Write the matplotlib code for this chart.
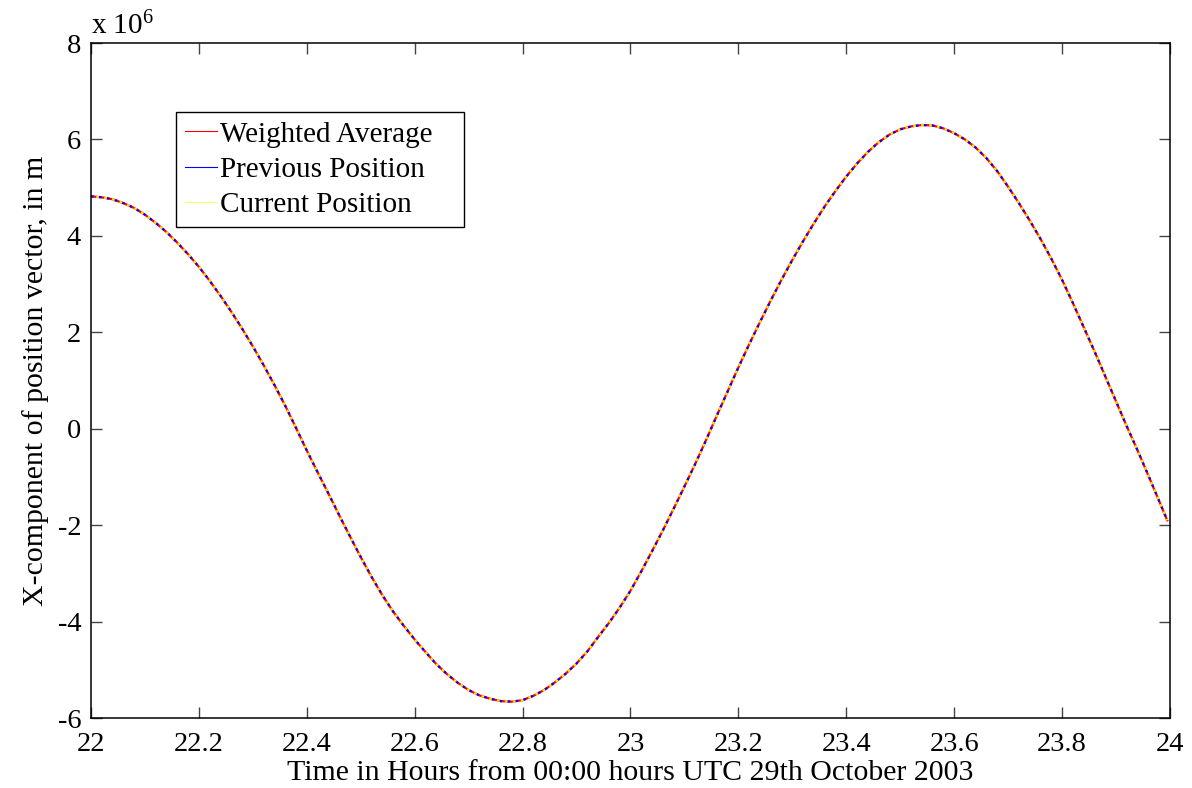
import numpy as np
import matplotlib
matplotlib.use("Agg")
import matplotlib.pyplot as plt
from matplotlib.lines import Line2D
from matplotlib.ticker import FuncFormatter

plt.rcParams['font.family'] = ['Liberation Serif', 'DejaVu Serif']
plt.rcParams['mathtext.fontset'] = 'custom'
plt.rcParams['mathtext.rm'] = 'Liberation Serif'
plt.rcParams['mathtext.default'] = 'regular'
plt.rcParams['axes.unicode_minus'] = False

# time in hours (every 0.02 h, last sample just before 24)
hours = list(np.round(np.arange(22.0, 23.99, 0.02), 2)) + [23.995]
# x-component, in units of 1e6 m (all three series overlap)
x_mm = [4.82, 4.80, 4.76, 4.68, 4.58, 4.44, 4.27, 4.08, 3.86, 3.62,
        3.36, 3.07, 2.76, 2.43, 2.08, 1.71, 1.32, 0.91, 0.48, 0.02,
        -0.45, -0.90, -1.34, -1.79, -2.23, -2.66, -3.07, -3.45, -3.79, -4.09,
        -4.37, -4.63, -4.88, -5.09, -5.27, -5.42, -5.53, -5.60, -5.65, -5.66,
        -5.63, -5.54, -5.42, -5.26, -5.08, -4.87, -4.62, -4.32, -4.03, -3.71,
        -3.36, -2.96, -2.54, -2.11, -1.66, -1.20, -0.73, -0.24, 0.27, 0.77,
        1.27, 1.75, 2.21, 2.66, 3.09, 3.50, 3.89, 4.26, 4.61, 4.93,
        5.23, 5.50, 5.74, 5.94, 6.10, 6.21, 6.27, 6.30, 6.29, 6.23,
        6.13, 6.00, 5.83, 5.61, 5.34, 5.02, 4.68, 4.32, 3.94, 3.53,
        3.09, 2.61, 2.11, 1.61, 1.09, 0.57, 0.05, -0.45, -0.97, -1.50,
        -1.90]

weighted = np.array(x_mm) * 1e6
previous = np.array(x_mm) * 1e6
current = np.array(x_mm) * 1e6

fig = plt.figure(figsize=(11.92, 7.88), dpi=100)
ax = fig.add_axes([0.0763, 0.0888, 0.9052, 0.8566])

ax.plot(hours, weighted, color='red', lw=1.6)
ax.plot(hours, previous, color='blue', lw=1.6, linestyle=(0, (1.2, 2.4)))
ax.plot(hours, current, color='#ffe600', lw=1.6, linestyle=(1.2, (1.2, 2.4)))

ax.set_xlim(22, 24)
ax.set_ylim(-6e6, 8e6)
ax.set_xticks([22, 22.2, 22.4, 22.6, 22.8, 23, 23.2, 23.4, 23.6, 23.8, 24])
ax.set_yticks(np.arange(-6, 9, 2) * 1e6)
ax.xaxis.set_major_formatter(FuncFormatter(lambda v, p: '%g' % round(v, 2)))
ax.yaxis.set_major_formatter(FuncFormatter(lambda v, p: '%g' % (v / 1e6)))

ax.tick_params(direction='in', length=8, width=1, colors='#444444',
               labelcolor='black', labelsize=20.5, top=True, right=True)
ax.tick_params(axis='x', pad=10)
ax.tick_params(axis='y', pad=7)
for s in ax.spines.values():
    s.set_linewidth(1.1)
    s.set_color('black')

ax.text(0.0, 1.004, r'x 10$^{6}$', transform=ax.transAxes, fontsize=21,
        ha='left', va='bottom')

ax.set_xlabel('Time in Hours from 00:00 hours UTC 29th October 2003',
              fontsize=21.5, labelpad=2)
ax.set_ylabel('X-component of position vector, in m', fontsize=21.5, labelpad=6)

handles = [Line2D([], [], color='red', lw=0.8),
           Line2D([], [], color='blue', lw=0.8),
           Line2D([], [], color='#ffff66', lw=0.8)]
leg = ax.legend(handles, ['Weighted Average', 'Previous Position', 'Current Position'],
                loc='lower left', bbox_to_anchor=(0.0788, 0.728, 0.267, 0.17),
                mode='expand', fontsize=21,
                fancybox=False, framealpha=1, edgecolor='black',
                handlelength=1.1, handletextpad=0.12, borderpad=0.3,
                labelspacing=0.3, borderaxespad=0)
leg.get_frame().set_linewidth(1.0)

fig.savefig('out.png', dpi=100)
